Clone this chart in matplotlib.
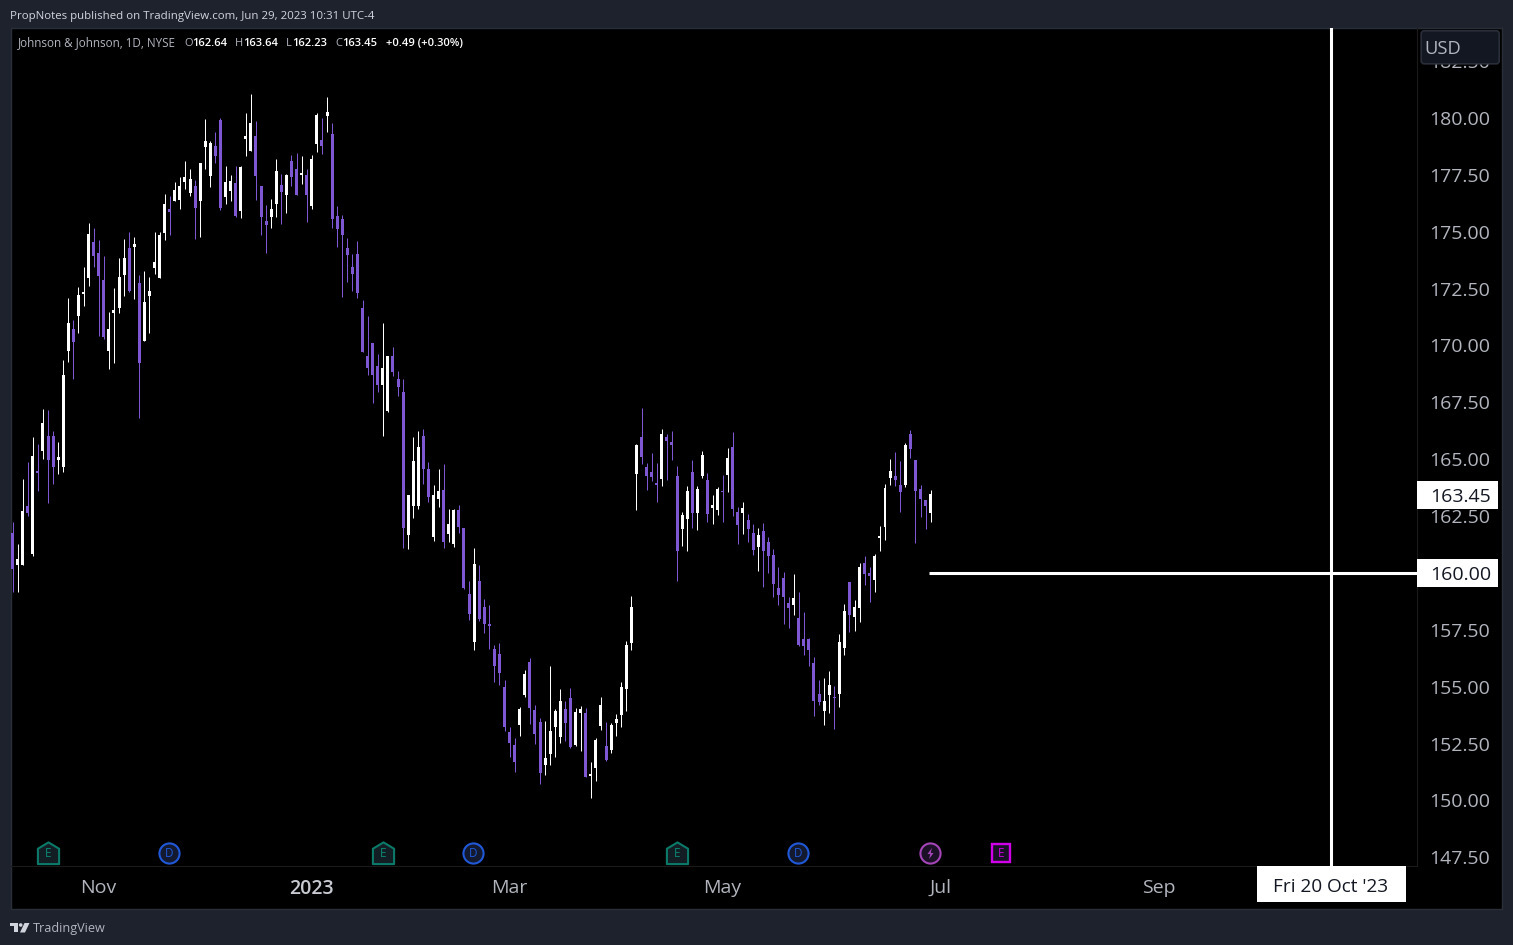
import matplotlib
matplotlib.use("Agg")
import matplotlib.pyplot as plt
from matplotlib.patches import Rectangle, FancyBboxPatch, Polygon, Circle
from matplotlib.path import Path
from matplotlib.transforms import blended_transform_factory
import numpy as np

plt.rcParams['font.family'] = ['Open Sans', 'DejaVu Sans']

opens = [161.74,160.33,160.33,162.93,160.81,164.47,165.35,166.01,166.01,164.95,
	164.64,169.75,170.71,171.29,172.25,172.96,174.54,174.06,172.87,169.75,
	171.42,171.64,173.09,174.28,174.32,172.74,170.19,172.17,173.40,172.96,
	174.94,175.99,176.35,176.39,177.18,176.70,177.01,176.35,178.72,177.45,
	178.77,179.91,176.52,176.79,177.14,175.91,179.07,178.55,179.21,177.01,
	175.47,175.64,176.21,177.05,176.61,178.11,177.75,177.49,177.49,176.13,
	178.85,179.03,180.09,179.29,175.69,175.55,174.28,173.44,174.01,171.64,
	169.53,170.10,169.09,168.25,167.11,169.53,168.51,167.94,161.65,162.93,
	162.93,166.01,164.55,161.56,163.23,163.63,161.69,161.25,162.75,161.96,
	159.05,156.94,159.63,158.48,157.73,156.63,156.41,154.96,152.98,152.41,
	153.29,154.61,156.06,153.95,153.42,151.53,152.01,153.20,152.76,153.99,
	154.48,152.41,153.82,153.82,151.05,151.40,153.25,152.37,152.19,153.38,
	153.73,154.87,156.90,164.33,165.96,164.64,164.42,163.94,164.11,165.96,
	165.74,164.25,161.91,162.35,164.42,162.62,164.25,164.07,162.84,162.75,
	163.59,164.29,165.52,162.66,162.62,162.31,161.74,161.12,161.83,161.34,
	160.77,159.32,159.76,158.66,158.57,158.00,157.07,157.07,156.02,154.65,
	153.91,154.61,154.52,154.65,156.68,159.58,158.04,158.44,160.42,159.98,
	159.67,161.52,162.00,164.16,164.25,163.85,163.85,166.09,164.95,163.67,
	163.19,162.64]
closes = [160.15,160.59,162.71,162.62,165.13,164.38,166.58,164.95,164.64,165.08,
	168.69,170.98,170.14,172.21,172.34,174.89,173.93,173.05,170.36,170.71,
	171.55,173.00,173.84,172.39,174.45,169.22,171.90,172.39,173.66,174.85,
	176.21,175.86,176.83,177.01,177.40,177.31,176.04,178.02,178.99,178.90,
	178.33,176.04,177.18,177.23,175.69,177.84,179.21,179.78,177.45,175.64,
	175.29,175.99,177.67,176.74,177.49,177.40,176.61,177.58,176.61,178.19,
	180.13,178.77,180.26,175.55,175.11,174.85,173.97,173.13,172.30,169.70,
	169.00,168.69,168.25,169.00,169.53,168.82,168.16,161.96,163.41,164.91,
	165.52,164.55,163.32,163.41,163.59,161.34,162.13,162.75,162.00,159.32,
	158.17,160.37,157.95,157.73,157.65,155.89,155.58,153.20,152.50,151.66,
	153.99,155.53,154.04,152.89,151.18,151.84,153.03,153.91,154.35,153.38,
	152.32,153.86,153.99,151.00,151.13,152.63,154.17,151.75,153.29,153.55,
	154.96,156.81,158.48,165.61,165.08,164.25,164.20,163.85,166.09,165.79,
	165.61,160.95,162.53,163.59,162.62,163.67,165.17,162.57,162.97,163.67,
	163.54,165.04,162.79,162.09,162.84,161.91,160.99,161.65,160.95,160.73,
	159.49,159.01,158.92,158.44,158.88,156.81,156.77,156.59,154.35,154.30,
	154.35,155.05,154.48,156.94,158.31,158.13,158.48,160.24,159.93,159.85,
	160.73,161.61,163.72,164.47,164.07,163.54,165.61,165.43,163.59,163.23,
	162.93,163.45]
highs = [162.22,161.25,164.11,164.86,165.96,165.65,167.19,167.15,166.23,165.74,
	169.35,172.08,171.11,172.56,173.44,175.38,175.16,174.63,173.93,171.46,
	172.52,173.84,174.67,174.98,174.76,173.09,173.27,173.00,174.98,174.98,
	176.65,176.57,177.18,177.40,178.11,177.75,177.27,178.02,179.95,178.99,
	179.38,180.00,177.89,177.49,177.89,177.89,180.22,181.05,179.87,177.01,
	176.17,176.43,178.19,177.53,177.53,178.37,178.46,178.33,177.75,178.37,
	180.22,180.00,180.92,179.78,176.13,175.73,174.72,174.01,174.59,171.99,
	171.29,170.10,169.61,170.98,169.53,169.92,168.87,168.51,163.41,165.96,
	166.23,166.31,164.86,163.85,164.55,164.77,162.79,162.79,162.97,161.96,
	159.63,161.08,160.33,158.83,158.57,156.81,156.90,155.27,153.20,152.72,
	154.08,155.71,156.24,154.17,153.60,153.47,155.89,153.99,154.87,154.35,
	154.92,154.04,154.13,154.04,151.66,152.72,154.52,153.42,153.38,153.77,
	155.18,156.99,158.97,165.65,167.24,164.82,165.26,164.82,166.31,166.09,
	166.23,164.69,162.66,163.81,164.95,163.81,165.35,164.38,163.41,163.76,
	164.29,165.48,166.19,162.88,163.10,162.57,162.13,161.96,162.18,161.56,
	161.03,160.24,160.02,158.92,159.93,159.14,158.26,157.12,156.28,155.27,
	155.36,155.67,155.01,157.29,158.61,159.58,158.79,160.42,160.73,160.24,
	160.81,162.05,163.89,164.99,165.30,164.91,165.70,166.27,164.95,163.85,
	163.19,163.64]
lows = [159.14,159.14,160.33,162.49,160.73,163.59,164.99,163.06,163.89,164.33,
	164.42,169.26,168.51,170.54,171.73,172.61,173.44,170.41,170.27,168.95,
	169.22,171.42,172.17,172.34,172.03,166.80,170.19,170.54,173.13,172.96,
	174.63,174.85,176.35,175.99,176.87,176.57,174.67,174.76,177.75,176.96,
	178.02,175.95,176.21,176.35,175.64,175.60,178.33,178.55,176.39,174.85,
	174.06,175.16,175.64,175.33,175.82,177.01,176.61,177.09,175.42,175.99,
	178.50,178.41,179.38,175.16,174.32,172.12,172.78,172.39,172.08,169.70,
	168.69,167.46,167.94,166.01,167.06,168.65,167.77,161.08,161.03,162.40,
	162.79,163.89,163.10,161.39,162.88,161.08,161.34,161.12,161.74,159.27,
	157.91,156.59,157.87,157.34,156.63,155.18,155.05,153.03,151.88,151.22,
	152.81,154.52,153.33,152.45,150.69,151.09,151.53,151.88,152.50,152.59,
	152.28,152.37,152.15,151.00,150.08,150.83,153.07,151.71,152.06,152.81,
	153.20,153.91,156.59,162.75,164.77,163.63,164.03,163.10,163.81,164.07,
	164.95,159.63,161.17,160.95,161.96,161.87,164.16,162.22,162.13,162.53,
	162.22,163.54,162.49,161.25,161.69,161.34,160.77,160.07,159.36,159.98,
	158.92,158.57,157.73,157.56,158.13,156.77,156.37,155.89,153.69,154.17,
	153.29,153.82,153.11,154.08,156.37,157.38,157.43,157.82,159.45,158.70,
	159.14,160.95,161.43,163.85,163.81,162.66,163.76,165.04,161.30,162.44,
	161.91,162.23]

price_ticks = [147.5,150,152.5,155,157.5,160,162.5,165,167.5,170,172.5,175,177.5,180,182.5]
month_idx = [17,59,98,140,183,226]
month_labels = ["Nov","2023","Mar","May","Jul","Sep"]
event_idx = [7,31,73,91,131,155,181,195]
event_kinds = ["E","D","E","D","E","D","S","X"]
last_close = 163.45
level_price = 160.0
level_start = 180.75
cursor_idx = 260

W, H = 1513, 945
BG = "#1e222d"
UP = "#ffffff"
DOWN = "#7e57d2"
GREY = "#b2b5be"

# the extra fraction stops 9.45*100 being truncated to 944 rows
fig = plt.figure(figsize=((W+0.2)/100, (H+0.2)/100), dpi=100, facecolor=BG)

def box(x0, y0, x1, y1):
	return [x0/W, 1-y1/H, (x1-x0)/W, (y1-y0)/H]

# black backing for pane + both scales
back = fig.add_axes(box(11, 28, 1502, 909), zorder=0)
back.set_facecolor("black")
back.set_xticks([])
back.set_yticks([])
for s in back.spines.values():
	s.set_color("#2a2e39")
	s.set_linewidth(1)

# main pane
ax = fig.add_axes(box(11, 28, 1417, 866), zorder=1)
ax.patch.set_alpha(0)
ax.set_xlim((11-12.5)/5.072, (1417-12.5)/5.072)
ax.set_ylim(180-(866-118)/22.74, 180+(118-28)/22.74)
for name, s in ax.spines.items():
	s.set_visible(name in ("right", "bottom"))
	s.set_color("#1a1a1a")
	s.set_linewidth(0.8)

idx = np.arange(len(opens))
o = np.array(opens)
c = np.array(closes)
colors = [UP if c[i] >= o[i] else DOWN for i in idx]
ax.vlines(idx, lows, highs, colors=colors, linewidth=0.72, zorder=3)
ax.bar(idx, np.maximum(np.abs(c-o), 0.04), bottom=np.minimum(o, c), width=0.59, color=colors, linewidth=0, zorder=3)

ax.plot([level_start, ax.get_xlim()[1]], [level_price, level_price], color="white", lw=2.2, solid_capstyle="butt", zorder=4)
ax.axvline(cursor_idx, color="white", lw=2.2, zorder=4)

ax.yaxis.tick_right()
ax.set_yticks(price_ticks)
ax.set_yticklabels(["%.2f" % p for p in price_ticks])
ax.tick_params(axis="y", length=0, pad=9, labelsize=14, labelcolor=GREY)
ax.set_xticks(month_idx)
ax.set_xticklabels(month_labels)
ax.tick_params(axis="x", length=0, pad=9, labelsize=14, labelcolor=GREY)
ax.get_xticklabels()[1].set_fontweight("semibold")
ax.get_xticklabels()[1].set_color("#c8cad2")

# event badges along the bottom of the pane
tr = blended_transform_factory(ax.transData, ax.transAxes)
house = Path([(-1,-1),(1,-1),(1,0.45),(0,1.05),(-1,0.45),(-1,-1)], closed=True)
ev_y = (866-853)/(866-28)
for i, kind in zip(event_idx, event_kinds):
	if kind == "E":
		ax.plot(i, ev_y, marker=house, ms=16, mfc="#131d24", mec="#0b7a68", mew=1.5, transform=tr, clip_on=False, zorder=5)
		ax.text(i, ev_y, "E", color="#0b8a74", fontsize=8.5, ha="center", va="center", transform=tr, zorder=6)
	elif kind == "D":
		ax.plot(i-0.15, ev_y, marker="o", ms=14.5, mfc="#131a30", mec="#2058d8", mew=1.5, transform=tr, zorder=5)
		ax.text(i-0.15, ev_y, "D", color="#2058d8", fontsize=8.5, ha="center", va="center", transform=tr, zorder=6)
	elif kind == "S":
		ax.plot(i-0.15, ev_y, marker="o", ms=14.5, mfc="#1b1026", mec="#a445b8", mew=1.5, transform=tr, zorder=5)
		bolt = Path([(0.25,1),(-0.55,-0.1),(-0.05,-0.1),(-0.25,-1),(0.55,0.1),(0.05,0.1),(0.25,1)], closed=True)
		ax.plot(i-0.15, ev_y, marker=bolt, ms=8, mfc="#a445b8", mec="none", transform=tr, zorder=6)
	else:
		ax.plot(i-0.15, ev_y, marker="s", ms=13.5, mfc="#1a1026", mec="#d000e8", mew=1.7, transform=tr, zorder=5)
		ax.text(i-0.15, ev_y, "E", color="#d000e8", fontsize=8.5, ha="center", va="center", transform=tr, zorder=6)

# overlay in image pixels for the furniture
top = fig.add_axes([0, 0, 1, 1], zorder=10)
top.set_xlim(0, W)
top.set_ylim(H, 0)
top.axis("off")
top.patch.set_alpha(0)

top.add_patch(FancyBboxPatch((1421, 31), 78, 33, boxstyle="round,pad=0,rounding_size=3", fc="#131722", ec="#2a2e39", lw=1.2))
top.text(1424, 49, "USD", color=GREY, fontsize=13.2, va="center", ha="left")

last_y = 118 + (180-last_close)*22.74
level_y = 118 + (180-level_price)*22.74 + 0.5
for val, y in [(last_close, last_y + 0.7), (level_price, level_y)]:
	top.add_patch(Rectangle((1417, y-14), 81, 28, fc="white", ec="none"))
	top.text(1460.5, y+1.7, "%.2f" % val, color="#131722", fontsize=14, ha="center", va="center")

top.add_patch(Rectangle((1257, 866), 149, 36, fc="white", ec="none"))
top.text(1330.5, 887, "Fri 20 Oct '23", color="#131722", fontsize=13.7, ha="center", va="center")

top.text(10, 16, "PropNotes published on TradingView.com, Jun 29, 2023 10:31 UTC-4", color="#d1d4dc", fontsize=8.25, va="center")

# legend line
legend_y = 43
top.text(18, legend_y, "Johnson & Johnson, 1D, NYSE", color=GREY, fontsize=8.4, va="center")
for lx, lab, vx, val in [(184, "O", 192, "162.64"), (235, "H", 243, "163.64"), (286, "L", 292, "162.23"), (335, "C", 342, "163.45")]:
	top.text(lx, legend_y, lab, color=GREY, fontsize=8, va="center")
	top.text(vx, legend_y, val, color="white", fontsize=8, va="center", fontweight="semibold")
top.text(386, legend_y, "+0.49 (+0.30%)", color="white", fontsize=8, va="center", fontweight="semibold")

# TradingView logo, footer
top.add_patch(Polygon([(10,923),(18,923),(18,932.5),(14,932.5),(14,926.5),(10,926.5)], fc="#d1d4dc", ec="none"))
top.add_patch(Circle((20.7,925), 1.8, fc="#d1d4dc", ec="none"))
top.add_patch(Polygon([(24.5,923),(29.5,923),(25,932.5),(20,932.5)], fc="#d1d4dc", ec="none"))
top.text(33, 928.5, "TradingView", color="#b2b5be", fontsize=9.1, va="center")

fig.savefig("out.png", dpi=100, facecolor=BG)
